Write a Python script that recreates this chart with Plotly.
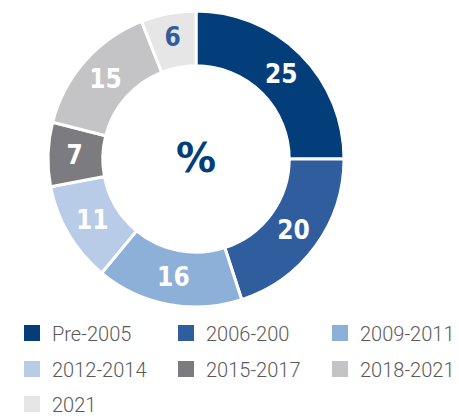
import plotly.graph_objects as go

labels = ["Pre-2005", "2006-200", "2009-2011", "2012-2014", "2015-2017", "2018-2021", "2021"]
values = [25, 20, 16, 11, 7, 15, 6]
colors = ["#033e7b", "#2f5d9e", "#8cb0d8", "#b8cbe7", "#7c7b80", "#c4c4c6", "#e6e6e7"]
text_colors = ["#ffffff", "#ffffff", "#ffffff", "#ffffff", "#ffffff", "#ffffff", "#2f5d9e"]
legend_rows = ["legend", "legend", "legend", "legend2", "legend2", "legend2", "legend3"]

W, H = 459, 418
fig = go.Figure()
fig.add_trace(go.Pie(
    labels=labels,
    values=values,
    sort=False,
    direction="clockwise",
    rotation=0,
    hole=0.63,
    marker=dict(colors=colors, line=dict(color="#ffffff", width=3)),
    textinfo="value",
    textposition="inside",
    insidetextorientation="horizontal",
    textfont=dict(family="DejaVu Sans Condensed", size=26, color=text_colors, weight="bold"),
    domain=dict(x=[48/W, 344/W], y=[1-307/H, 1-11/H]),
    showlegend=False,
    hoverinfo="label+value",
))

for lab, col, lg in zip(labels, colors, legend_rows):
    fig.add_trace(go.Scatter(
        x=[None], y=[None], mode="markers", name=lab, legend=lg,
        marker=dict(symbol="square", size=16, color=col),
        showlegend=True,
    ))

fig.add_annotation(text="%", x=196/W, y=1-158/H, xref="paper", yref="paper",
                   showarrow=False, font=dict(family="DejaVu Sans", size=40, color="#033e7b", weight="bold"))

leg_common = dict(orientation="h", xanchor="left", yanchor="middle",
                  entrywidth=109, entrywidthmode="pixels", itemsizing="trace",
                  bgcolor="rgba(0,0,0,0)",
                  font=dict(family="Roboto", size=20, color="#5a5a5a", weight=300))

fig.update_layout(
    width=W, height=H,
    margin=dict(l=0, r=0, t=0, b=0, autoexpand=False),
    paper_bgcolor="white",
    plot_bgcolor="white",
    xaxis=dict(visible=False),
    yaxis=dict(visible=False),
    legend=dict(x=12/W, y=1-333/H, **leg_common),
    legend2=dict(x=12/W, y=1-369/H, **leg_common),
    legend3=dict(x=12/W, y=1-404/H, **leg_common),
)

fig.write_html("out.html", config={"displayModeBar": False},
               post_script="document.body.style.margin='0';document.body.style.padding='0';")
